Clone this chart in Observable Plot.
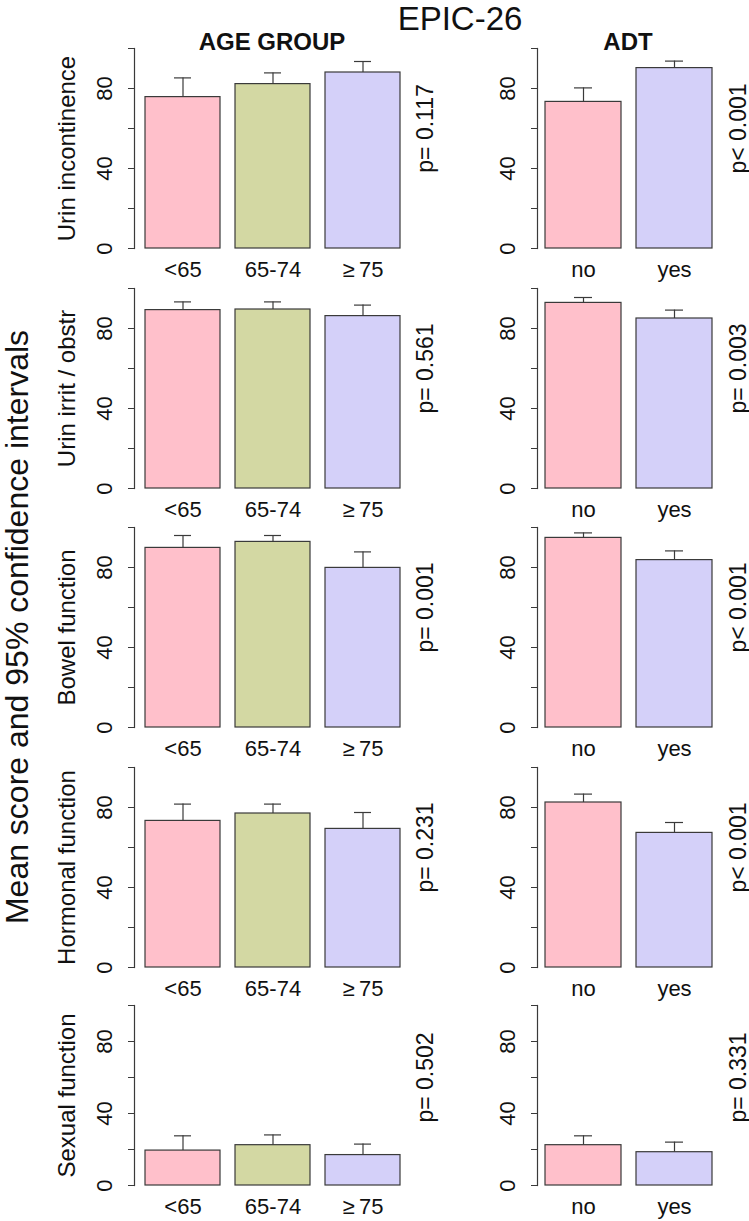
<!DOCTYPE html>
<html><head><meta charset="utf-8">
<script src="https://cdn.jsdelivr.net/npm/d3@7"></script>
<script src="https://cdn.jsdelivr.net/npm/@observablehq/plot@0.6"></script>
<style>
body{margin:0;background:#fff;}
#chart{position:relative;width:749px;height:1221px;overflow:hidden;background:#fff;}
</style></head><body><div id="chart"></div>
<script>
// ---- data ----
const rowLabels = ["Urin incontinence", "Urin irrit / obstr", "Bowel function", "Hormonal function", "Sexual function"];
const ageGroups = ["<65", "65-74", "\u2265\u200975"];
const adtGroups = ["no", "yes"];
const ageMean  = [[75.7, 82.2, 88.0], [89.2, 89.5, 86.2], [89.8, 92.8, 79.8], [73.3, 77.0, 69.3], [19.4, 22.4, 16.9]];
const ageUpper = [[85.3, 87.8, 93.5], [93.3, 93.3, 91.7], [96.0, 96.0, 87.8], [81.7, 81.7, 77.5], [27.6, 28.1, 23.0]];
const adtMean  = [[73.3, 90.2], [92.8, 85.0], [94.8, 83.7], [82.5, 67.3], [22.4, 18.5]];
const adtUpper = [[80.3, 93.7], [95.5, 89.2], [97.3, 88.3], [86.7, 72.5], [27.6, 24.1]];
const ageP = ["p= 0.117", "p= 0.561", "p= 0.001", "p= 0.231", "p= 0.502"];
const adtP = ["p< 0.001", "p= 0.003", "p< 0.001", "p< 0.001", "p= 0.331"];
const yTicks = [0, 20, 40, 60, 80, 100];
const yTickLabels = [0, 40, 80];
const ageColors = ["#FFC0CB", "#D3D8A3", "#D4D0F9"];
const adtColors = ["#FFC0CB", "#D4D0F9"];
const titleText = "EPIC-26";
const colHeaders = ["AGE GROUP", "ADT"];
const yTitle = "Mean score and 95% confidence intervals";

// ---- layout ----
const FONT = '"Liberation Sans", Arial, Helvetica, sans-serif';
const INK = "#3a3a3a";
const rowTops = [48, 287.5, 527, 766.5, 1005];
const rowHeights = [200, 200, 200, 200, 180];
const pLabelY = 60;
const columns = [
  {cats: ageGroups, means: ageMean, uppers: ageUpper, colors: ageColors, p: ageP,
   left: 0, width: 470, marginLeft: 134, marginRight: 59, paddingOuter: 0.1133, pDx: 21, rowLabel: true},
  {cats: adtGroups, means: adtMean, uppers: adtUpper, colors: adtColors, p: adtP,
   left: 470, width: 279, marginLeft: 67, marginRight: 30, paddingOuter: 0.0733, pDx: 26, rowLabel: false}
];

const chart = document.getElementById("chart");

columns.forEach(col => {
  rowLabels.forEach((lab, r) => {
    const data = col.cats.map((c, i) => ({cat: c, mean: col.means[r][i], upper: col.uppers[r][i]}));
    const mt = 10, mb = 40;
    const marks = [
      Plot.barY(data, {x: "cat", y: "mean", fill: "cat", stroke: INK, strokeWidth: 1.2}),
      Plot.ruleX(data, {x: "cat", y1: "mean", y2: "upper", stroke: INK, strokeWidth: 1.2}),
      Plot.tickY(data, {x: "cat", y: "upper", inset: 29, stroke: INK, strokeWidth: 1.2}),
      Plot.frame({anchor: "left", stroke: INK, strokeWidth: 1.2}),
      Plot.axisY({ticks: yTicks, tickSize: 6, tickPadding: 17, tickRotate: -90,
        tickFormat: d => yTickLabels.includes(d) ? String(d) : "", fontSize: 22, label: null, stroke: INK, fill: "#111"}),
      Plot.axisX({tickSize: 0, tickPadding: 13, fontSize: 22, label: null, fill: "#111"}),
      Plot.text([{p: col.p[r], y: pLabelY}], {y: "y", text: "p", frameAnchor: "right", rotate: -90,
        textAnchor: "middle", lineAnchor: "bottom", dx: col.pDx, fontSize: 23, fill: "#111"})
    ];
    if (col.rowLabel) {
      marks.push(Plot.text([lab], {text: d => d, frameAnchor: "left", rotate: -90, textAnchor: "middle",
        lineAnchor: "bottom", dx: -60, fontSize: 24, fill: "#111"}));
    }
    const svg = Plot.plot({
      width: col.width,
      height: rowHeights[r] + mt + mb,
      marginLeft: col.marginLeft, marginRight: col.marginRight, marginTop: mt, marginBottom: mb,
      x: {domain: col.cats, paddingInner: 1/6, paddingOuter: col.paddingOuter, align: 0.5},
      y: {domain: [0, 100]},
      color: {domain: col.cats, range: col.colors},
      style: {fontFamily: FONT, background: "transparent", overflow: "visible"},
      marks
    });
    svg.style.position = "absolute";
    svg.style.left = col.left + "px";
    svg.style.top = (rowTops[r] - mt) + "px";
    svg.style.maxWidth = "none";
    chart.appendChild(svg);
  });
});

// ---- titles overlay ----
const ov = d3.create("svg").attr("width", 749).attr("height", 1221)
  .style("position", "absolute").style("left", "0px").style("top", "0px")
  .style("pointer-events", "none").style("font-family", FONT);
ov.append("text").attr("x", 460).attr("y", 30).attr("text-anchor", "middle")
  .attr("font-size", 33).attr("fill", "#111").text(titleText);
ov.append("text").attr("x", 272).attr("y", 50).attr("text-anchor", "middle")
  .attr("font-size", 24).attr("font-weight", "bold").attr("fill", "#111").text(colHeaders[0]);
ov.append("text").attr("x", 628).attr("y", 50).attr("text-anchor", "middle")
  .attr("font-size", 24).attr("font-weight", "bold").attr("fill", "#111").text(colHeaders[1]);
ov.append("text").attr("transform", "translate(28,627) rotate(-90)").attr("text-anchor", "middle")
  .attr("font-size", 32).attr("fill", "#111").text(yTitle);
chart.appendChild(ov.node());
</script></body></html>
